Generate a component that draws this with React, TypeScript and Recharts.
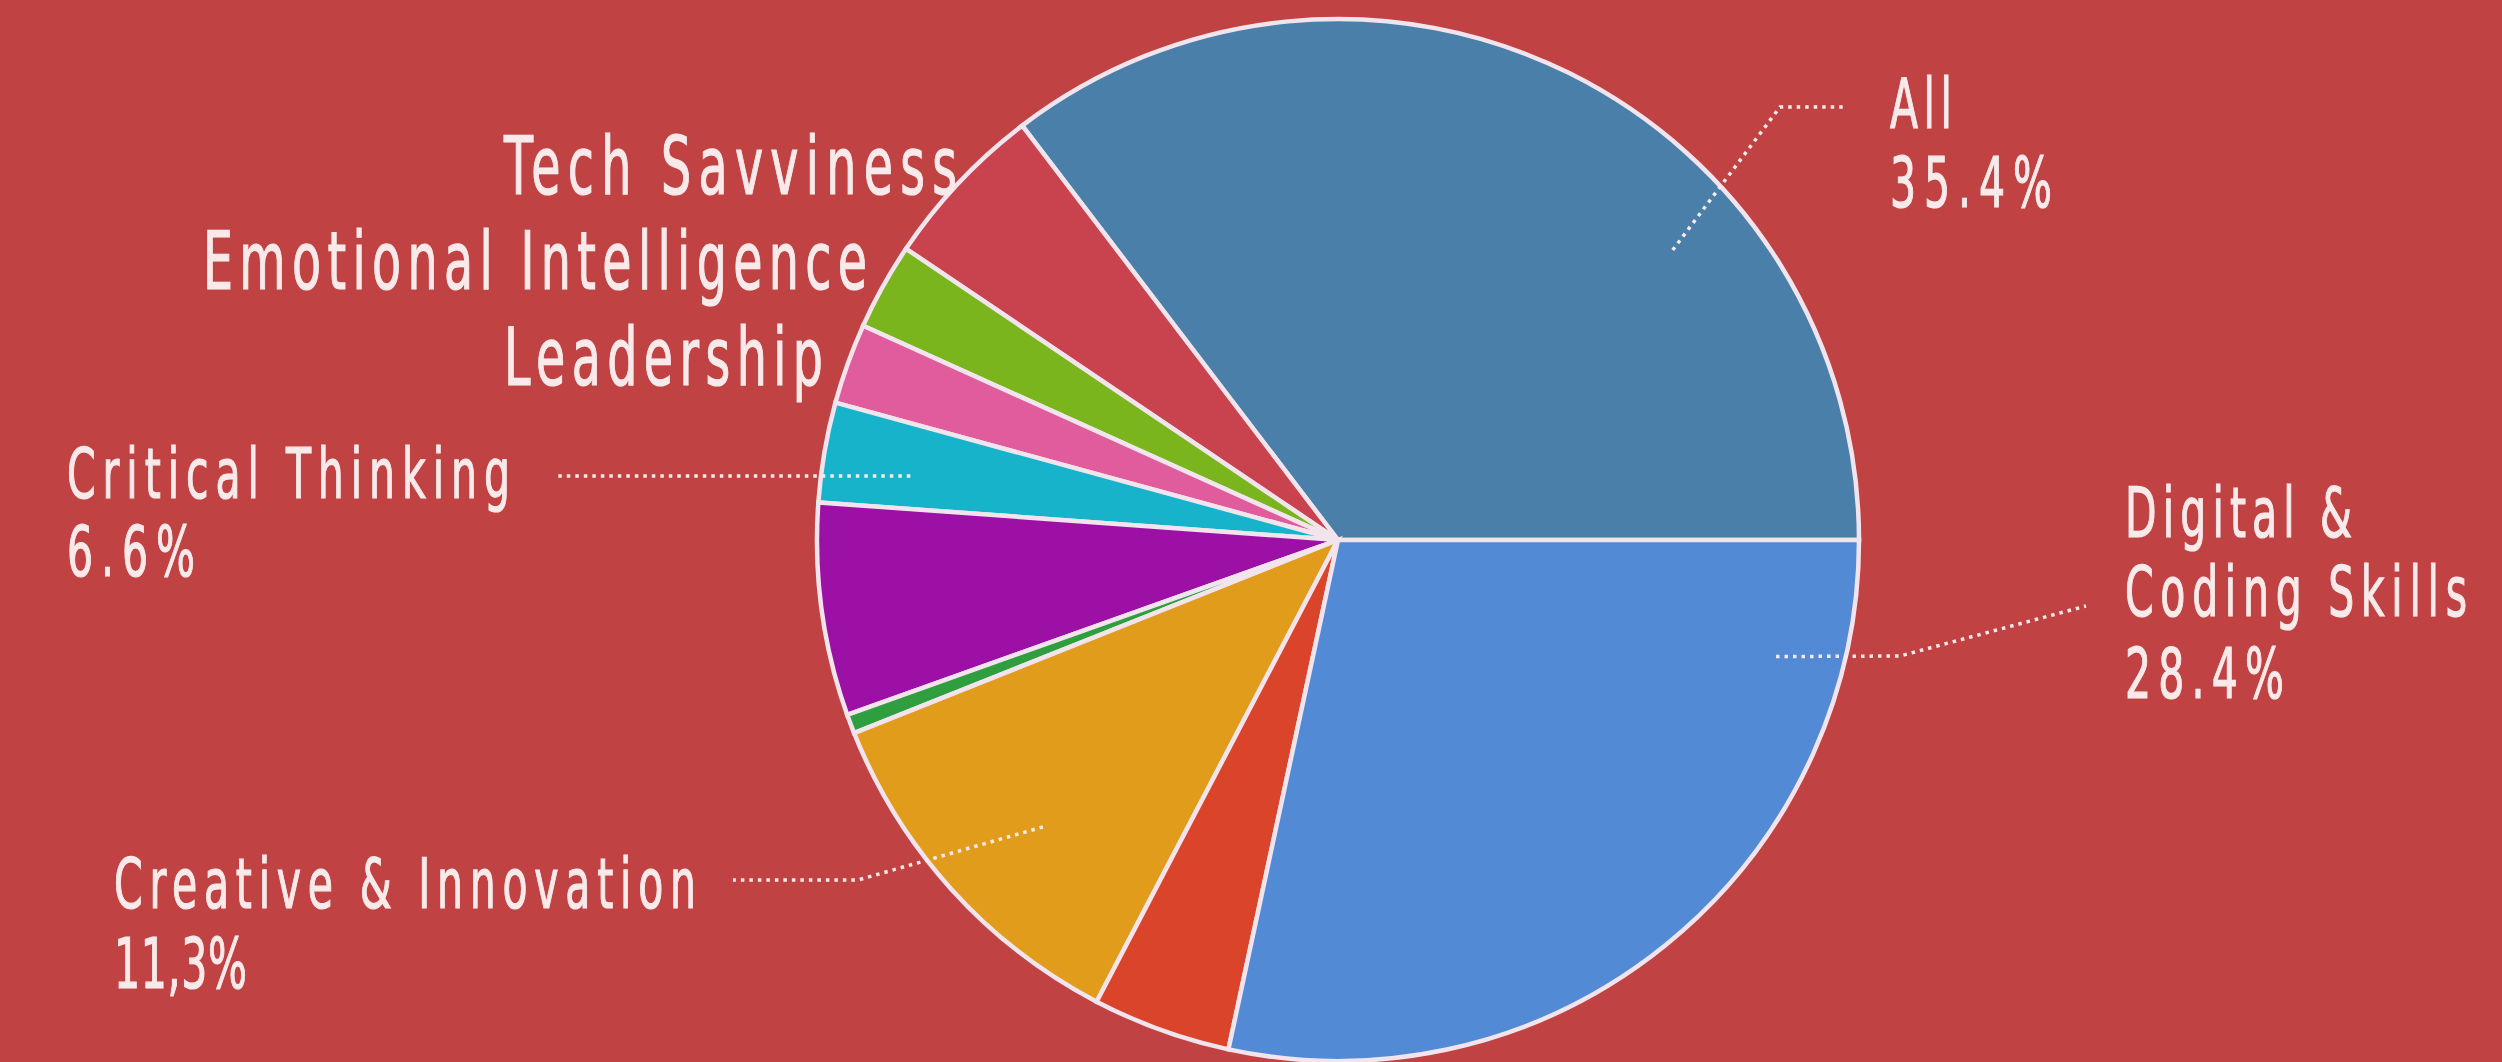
import { PieChart, Pie, Cell } from "recharts";

document.body.style.margin = "0";

const W = 2502;
const H = 1062;
const BG = "#C04243";
const INK = "#F8EAEA";
const FONT = "'DejaVu Sans Condensed', 'Liberation Sans Narrow', 'DejaVu Sans', sans-serif";

/* ── Data (slices run counter-clockwise from 3 o'clock) ─────────────── */
const skills = [
  "All",
  "Tech Savviness",
  "Emotional Intelligence",
  "Leadership",
  "Other 1",
  "Critical Thinking",
  "Other 2",
  "Creative & Innovation",
  "Other 3",
  "Digital & Coding Skills",
];
const shares = [35.4, 5.2, 2.7, 2.5, 3.1, 6.6, 0.6, 11.3, 4.3, 28.4];
const sliceColors = [
  "#4A7FAA", "#C9434E", "#7AB51D", "#E05C9C", "#17B3CA",
  "#9C10A6", "#2F9E3E", "#E29C1C", "#D9442B", "#528AD6",
];
const labelLines: Record<string, string[]> = {
  "All": ["All", "35.4%"],
  "Digital & Coding Skills": ["Digital &", "Coding Skills", "28.4%"],
  "Critical Thinking": ["Critical Thinking", "6.6%"],
  "Creative & Innovation": ["Creative & Innovation", "11,3%"],
  "Tech Savviness": ["Tech Savviness"],
  "Emotional Intelligence": ["Emotional Intelligence"],
  "Leadership": ["Leadership"],
};

const pieData = skills.map((name, i) => ({ name, value: shares[i] }));

/* ── Label layout (positions only) ──────────────────────────────────── */
type Callout = {
  x: number;
  baselines: number[];
  widths: number[];
  size: number;
  anchor?: [number, number]; // angle (deg), fraction of radius
  path?: [number, number][]; // elbow / end points after the anchor
};

const callouts: Record<string, Callout> = {
  "All": { x: 1890, baselines: [128, 207], widths: [62, 162], size: 69,
    anchor: [40.9, 0.85], path: [[1780, 107], [1843, 107]] },
  "Digital & Coding Skills": { x: 2125, baselines: [537, 616, 698], widths: [227, 342, 159], size: 69,
    anchor: [-14.9, 0.87], path: [[1900, 656], [2086, 606]] },
  "Critical Thinking": { x: 67, baselines: [498, 576], widths: [443, 128], size: 69,
    anchor: [171.5, 0.83], path: [[554, 476]] },
  "Creative & Innovation": { x: 114, baselines: [908, 988], widths: [582, 133], size: 69,
    anchor: [224.2, 0.79], path: [[858, 880], [733, 880]] },
  "Tech Savviness": { x: 504, baselines: [194], widths: [453], size: 80 },
  "Emotional Intelligence": { x: 203, baselines: [289], widths: [664], size: 80 },
  "Leadership": { x: 504, baselines: [385], widths: [319], size: 80 },
};

const SX = 0.66;
const RAD = Math.PI / 180;

function SliceLabel(props: any) {
  const { cx, cy, outerRadius } = props;
  const name = props.payload?.name ?? props.name;
  const cfg = callouts[name];
  const lines = labelLines[name];
  if (!cfg || !lines) return <g />;

  let leader = null;
  if (cfg.anchor && cfg.path) {
    const [ang, f] = cfg.anchor;
    const ax = cx + outerRadius * f * Math.cos(ang * RAD);
    const ay = cy - outerRadius * f * Math.sin(ang * RAD);
    const pts = [[ax, ay], ...cfg.path].map((p) => p.join(",")).join(" ");
    leader = (
      <polyline points={pts} fill="none" stroke={INK} strokeWidth={3.5}
        strokeDasharray="3.5 5" />
    );
  }

  return (
    <g>
      {leader}
      {lines.map((t, i) => (
        <text
          key={i}
          transform={`scale(${SX},1)`}
          x={cfg.x / SX}
          y={cfg.baselines[i]}
          textLength={cfg.widths[i] / SX}
          lengthAdjust="spacing"
          fontSize={cfg.size}
          fontFamily={FONT}
          fill={INK}
          stroke={INK}
          strokeWidth={1.2}
        >
          {t}
        </text>
      ))}
    </g>
  );
}

export default function App() {
  return (
    <div style={{ width: W, height: H, background: BG }}>
      <PieChart width={W} height={H} margin={{ top: 0, right: 0, bottom: 0, left: 0 }}>
        <Pie
          data={pieData}
          dataKey="value"
          nameKey="name"
          cx={1338}
          cy={540}
          outerRadius={521}
          startAngle={0}
          endAngle={360}
          stroke="#F2E4EC"
          strokeWidth={4.5}
          label={SliceLabel}
          labelLine={false}
          isAnimationActive={false}
        >
          {pieData.map((d, i) => (
            <Cell key={d.name} fill={sliceColors[i]} />
          ))}
        </Pie>
      </PieChart>
    </div>
  );
}
